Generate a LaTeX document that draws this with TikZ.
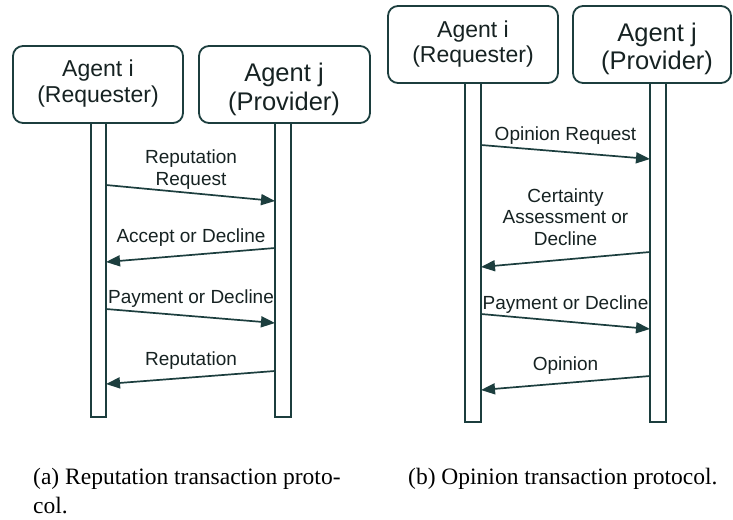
\documentclass[tikz,border=0pt]{standalone}
\usepackage{fontspec}
\setmainfont{Liberation Sans}
\newfontfamily\capfont{Liberation Serif}
\usetikzlibrary{arrows.meta}
\definecolor{ln}{RGB}{28,62,62}
\definecolor{tx}{RGB}{22,34,34}
\begin{document}
\begin{tikzpicture}[x=1pt,y=-1pt,
  agent/.style={draw=ln, line width=1.8pt, rounded corners=10pt, minimum height=77pt, inner sep=0pt},
  life/.style={draw=ln, line width=1.8pt, inner sep=0pt, minimum width=15.5pt},
  msg/.style={draw=ln, line width=1.7pt, -{Triangle[length=14pt,width=11pt]}},
  atxti/.style={text=tx, font=\fontsize{23}{25.5}\selectfont, align=center, inner sep=0pt, anchor=base},
  atxtj/.style={text=tx, font=\fontsize{25.5}{28.5}\selectfont, align=center, inner sep=0pt, anchor=base},
  lab/.style={text=tx, font=\fontsize{19}{21.5}\selectfont, align=center, inner sep=0pt, anchor=base},
  captxt/.style={font=\capfont\fontsize{23.5}{29}\selectfont, inner sep=0pt, anchor=base west, align=left, text=black}
]
\useasboundingbox (0,0) rectangle (733,519);

% ---------- (a) ----------
\node[agent, minimum width=170pt] (LI) at (98,84.5) {};
\node[agent, minimum width=171pt] (LJ) at (284.5,84.5) {};
\node[life, minimum height=294pt] (LIl) at (98.5,270) {};
\node[life, minimum height=294pt] (LJl) at (283,270) {};
\node[atxti] (LIt) at (98,102.5) {Agent i\\(Requester)};
\node[atxtj] (LJt) at (284,110) {Agent j\\(Provider)};

\coordinate (La1) at (106,185);  \coordinate (Lb1) at (275,201);
\coordinate (Lb2) at (275,248);  \coordinate (La2) at (106,262);
\coordinate (La3) at (106,309);  \coordinate (Lb3) at (275,323);
\coordinate (Lb4) at (275,371);  \coordinate (La4) at (106,384);
\draw[msg] (La1) -- (Lb1);
\draw[msg] (Lb2) -- (La2);
\draw[msg] (La3) -- (Lb3);
\draw[msg] (Lb4) -- (La4);
\node[lab] (Lm1) at (191,185) {Reputation\\Request};
\node[lab] (Lm2) at (191,242) {Accept or Decline};
\node[lab] (Lm3) at (191,303) {Payment or Decline};
\node[lab] (Lm4) at (191,365) {Reputation};

% ---------- (b) ----------
\node[agent, minimum width=170pt] (RI) at (473,44.5) {};
\node[agent, minimum width=158pt] (RJ) at (652,44.5) {};
\node[life, minimum height=339pt] (RIl) at (473,252.5) {};
\node[life, minimum height=339pt] (RJl) at (658,252.5) {};
\node[atxti] (RIt) at (473,63) {Agent i\\(Requester)};
\node[atxtj] (RJt) at (657,70) {Agent j\\(Provider)};

\coordinate (Ra1) at (481,145);  \coordinate (Rb1) at (650,159);
\coordinate (Rb2) at (650,252);  \coordinate (Ra2) at (481,267);
\coordinate (Ra3) at (481,314);  \coordinate (Rb3) at (650,329);
\coordinate (Rb4) at (650,376);  \coordinate (Ra4) at (481,390);
\draw[msg] (Ra1) -- (Rb1);
\draw[msg] (Rb2) -- (Ra2);
\draw[msg] (Ra3) -- (Rb3);
\draw[msg] (Rb4) -- (Ra4);
\node[lab] (Rm1) at (565.5,140) {Opinion Request};
\node[lab] (Rm2) at (565.5,245) {Certainty\\Assessment or\\Decline};
\node[lab] (Rm3) at (565.5,309) {Payment or Decline};
\node[lab] (Rm4) at (565.5,370) {Opinion};

% ---------- captions ----------
\node[captxt] (capa) at (33,513) {(a) Reputation transaction proto-\\col.};
\node[captxt] (capb) at (408,484) {(b) Opinion transaction protocol.};
\end{tikzpicture}
\end{document}
